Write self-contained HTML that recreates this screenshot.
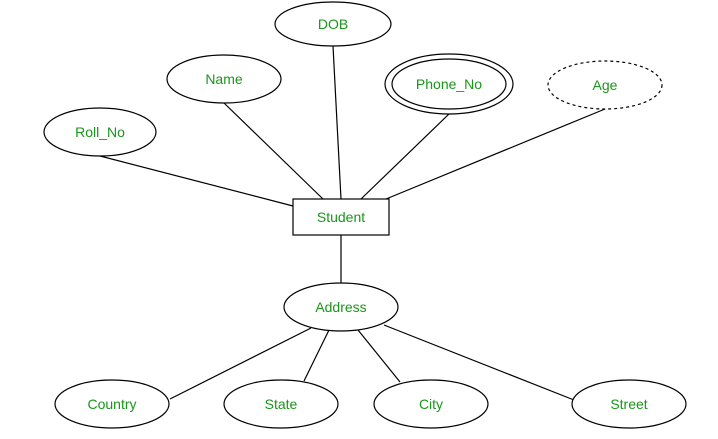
<!DOCTYPE html>
<html><head><style>html,body{margin:0;padding:0;background:#fff}</style></head>
<body>
<svg width="718" height="439" xmlns="http://www.w3.org/2000/svg" style="display:block">
<g stroke="#000" stroke-width="1.2" fill="none">
<line x1="100" y1="156" x2="293" y2="206"/>
<line x1="224" y1="103" x2="323" y2="199"/>
<line x1="333" y1="46" x2="341" y2="199"/>
<line x1="449" y1="114" x2="361" y2="199"/>
<line x1="605" y1="109" x2="386" y2="199"/>
<line x1="341" y1="235" x2="341" y2="283"/>
<line x1="311" y1="328" x2="170" y2="399"/>
<line x1="329" y1="330" x2="304" y2="381"/>
<line x1="358" y1="330" x2="400" y2="382"/>
<line x1="384" y1="325" x2="574" y2="400"/>
</g>
<g stroke="#000" stroke-width="1.2" fill="#fff">
<ellipse cx="333" cy="24" rx="58" ry="22"/>
<ellipse cx="224" cy="79" rx="57" ry="24"/>
<ellipse cx="449" cy="84" rx="64" ry="30"/>
<ellipse cx="449" cy="84" rx="57" ry="25"/>
<ellipse cx="605" cy="85" rx="57" ry="24" stroke-dasharray="3,3"/>
<ellipse cx="100" cy="132" rx="56" ry="24"/>
<rect x="293" y="199" width="96" height="36"/>
<ellipse cx="341" cy="307" rx="57" ry="24"/>
<ellipse cx="112" cy="404" rx="57" ry="24"/>
<ellipse cx="281" cy="404" rx="57" ry="24"/>
<ellipse cx="431" cy="404" rx="57" ry="24"/>
<ellipse cx="629" cy="404" rx="57" ry="24"/>
</g>
<g fill="#1a961a" font-family="Liberation Sans, sans-serif" font-size="14" text-anchor="middle">
<text x="333" y="29">DOB</text>
<text x="224" y="84">Name</text>
<text x="449" y="89">Phone_No</text>
<text x="605" y="90">Age</text>
<text x="100" y="137">Roll_No</text>
<text x="341" y="222">Student</text>
<text x="341" y="312">Address</text>
<text x="112" y="409">Country</text>
<text x="281" y="409">State</text>
<text x="431" y="409">City</text>
<text x="629" y="409">Street</text>
</g>
</svg>
</body></html>
